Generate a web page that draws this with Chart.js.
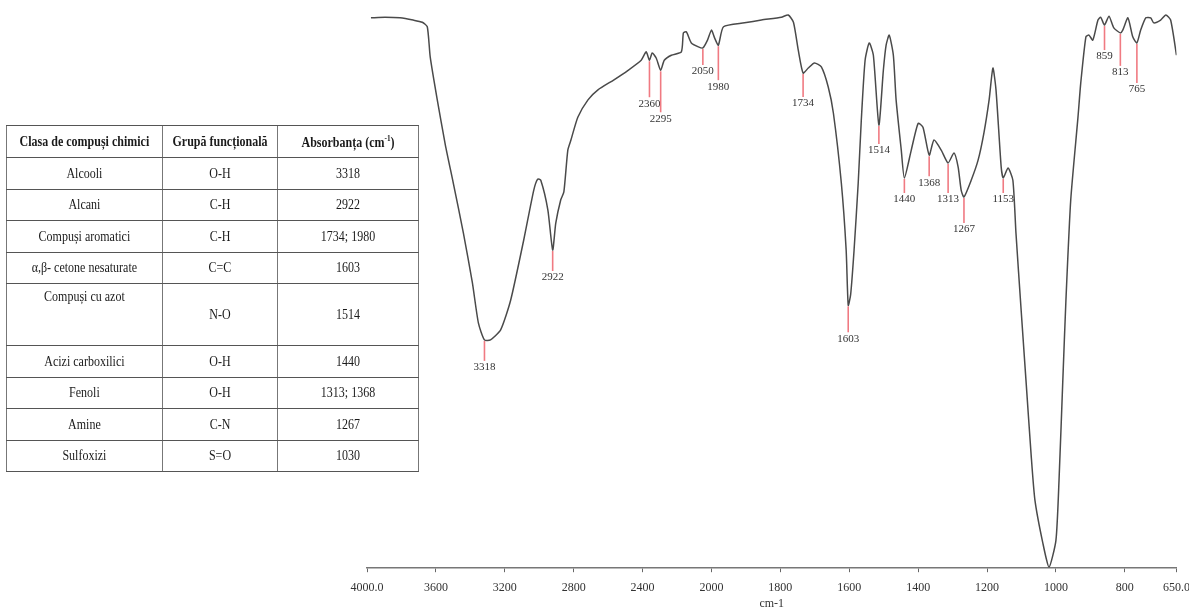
<!DOCTYPE html>
<html lang="ro">
<head>
<meta charset="utf-8">
<title>Spectru FTIR</title>
<script src="https://cdn.jsdelivr.net/npm/chart.js@4.4.1/dist/chart.umd.min.js"></script>
<style>
  html, body { margin: 0; padding: 0; background: #fff; }
  body { width: 1189px; height: 611px; position: relative; overflow: hidden;
         font-family: 'Liberation Serif', 'Times New Roman', serif; }
  #spectrum { position: absolute; left: 0; top: 0; }
  /* the table is laid out wide and squeezed horizontally to a narrow serif look */
  #groups { position: absolute; left: 6px; top: 125px; border-collapse: collapse;
            table-layout: fixed; width: 515px; transform: scaleX(0.8); transform-origin: 0 0;
            color: #1a1a1a; font-size: 15px; }
  #groups th, #groups td { border: 1px solid #555; text-align: center; vertical-align: middle;
            padding: 0; white-space: nowrap; }
  #groups th { font-weight: bold; height: 31px; }
  #groups td { height: 30.5px; }
  #groups tbody tr:nth-child(5) td { height: 61px; }
  #groups tbody tr:nth-child(5) td:first-child { vertical-align: top; padding-top: 4px; height: 57px; }
  #groups sup { font-size: 9px; }
</style>
</head>
<body>
<!-- slightly wider than the page so the last tick label can hang past the plot edge -->
<canvas id="spectrum" width="1198" height="611"></canvas>
<table id="groups">
  <colgroup><col style="width:195px"><col style="width:144px"><col style="width:176px"></colgroup>
  <thead>
    <tr><th>Clasa de compuși chimici</th><th>Grupă funcțională</th><th>Absorbanța (cm<sup>-1</sup>)</th></tr>
  </thead>
  <tbody></tbody>
</table>
<script>
// Functional groups assigned to the absorption bands
const compoundClasses = ['Alcooli', 'Alcani', 'Compuși aromatici', 'α,β- cetone nesaturate',
  'Compuși cu azot', 'Acizi carboxilici', 'Fenoli', 'Amine', 'Sulfoxizi'];
const functionalGroups = ['O-H', 'C-H', 'C-H', 'C=C', 'N-O', 'O-H', 'O-H', 'C-N', 'S=O'];
const absorptionBands = ['3318', '2922', '1734; 1980', '1603', '1514', '1440', '1313; 1368', '1267', '1030'];

// Spectrum: wavenumber (cm-1) and transmittance (%T)
const wavenumbers = [
  3977, 3895, 3808, 3732, 3679, 3650, 3633, 3592, 3545, 3499, 3440, 3388, 3353, 3318, 3283,
  3224, 3166, 3090, 3032, 3009, 2991, 2950, 2922, 2904, 2875, 2857, 2834, 2816, 2776, 2717,
  2659, 2566, 2484, 2408, 2379, 2360, 2344, 2321, 2295, 2274, 2233, 2175, 2163, 2146, 2117,
  2076, 2050, 2023, 2000, 1991, 1980, 1965, 1904, 1855, 1797, 1777, 1762, 1748, 1734, 1719,
  1701, 1681, 1661, 1646, 1623, 1609, 1603, 1596, 1586, 1574, 1565, 1554, 1542, 1530, 1514,
  1501, 1493, 1484, 1472, 1464, 1449, 1440, 1420, 1400, 1386, 1368, 1354, 1333, 1313, 1296,
  1284, 1275, 1267, 1246, 1226, 1209, 1194, 1183, 1174, 1159, 1153, 1139, 1125, 1116, 1101,
  1087, 1072, 1061, 1038, 1020, 1000, 991, 980, 971, 957, 936, 928, 913, 904, 893,
  878, 870, 859, 846, 832, 813, 806, 791, 777, 765, 754, 739, 725, 716, 696,
  681, 667, 650
];
const transmittance = [
  98.6, 98.7, 98.6, 98.2, 97.8, 97.0, 91.6, 83.9, 75.8, 69.0, 60.0, 51.1, 43.9, 40.9, 40.9,
  42.7, 48.0, 58.8, 67.7, 69.7, 69.5, 64.2, 57.0, 61.8, 66.0, 67.4, 74.9, 76.7, 80.8, 83.9,
  85.7, 87.5, 89.2, 91.0, 92.5, 91.0, 92.3, 91.4, 89.2, 91.0, 91.9, 92.5, 95.9, 96.1, 94.1,
  93.4, 93.2, 94.6, 96.4, 95.0, 93.7, 97.0, 97.7, 98.2, 98.7, 99.1, 97.8, 92.8, 88.7, 89.6,
  90.5, 89.8, 86.2, 81.5, 69.0, 57.0, 47.1, 49.0, 57.0, 69.0, 80.3, 91.0, 94.1, 91.9, 79.4,
  89.2, 93.7, 95.5, 91.9, 83.9, 74.9, 69.9, 74.9, 79.7, 79.0, 74.0, 76.7, 74.9, 72.6, 74.4,
  71.9, 67.7, 66.5, 69.5, 73.1, 78.0, 83.9, 89.6, 85.7, 71.9, 69.9, 71.7, 69.5, 60.0, 46.2,
  33.7, 20.3, 12.2, 4.5, 0.2, 5.0, 15.8, 33.7, 48.0, 66.0, 80.8, 86.9, 95.2, 95.5, 94.6,
  98.2, 98.7, 97.3, 98.9, 96.8, 95.9, 96.4, 98.6, 95.2, 94.1, 96.4, 98.6, 98.6, 97.7, 98.2,
  99.1, 98.2, 91.9
];

// Marked absorption peaks (cm-1)
const peakWavenumbers = [3318, 2922, 2360, 2295, 2050, 1980, 1734, 1603, 1514, 1440, 1368, 1313, 1267, 1153, 859, 813, 765];

// Axis ticks
const tickValues = [4000, 3600, 3200, 2800, 2400, 2000, 1800, 1600, 1400, 1200, 1000, 800, 650];
const tickLabels = ['4000.0', '3600', '3200', '2800', '2400', '2000', '1800', '1600', '1400', '1200', '1000', '800', '650.0'];

// Table rows
const tbody = document.querySelector('#groups tbody');
compoundClasses.forEach((name, i) => {
  const tr = document.createElement('tr');
  [name, functionalGroups[i], absorptionBands[i]].forEach(text => {
    const td = document.createElement('td');
    td.textContent = text;
    tr.appendChild(td);
  });
  tbody.appendChild(tr);
});

// Wavenumber axis with the usual 2x expansion below 2000 cm-1
const AXIS_HIGH = 4000, AXIS_BREAK = 2000, AXIS_LOW = 650, EXPANSION = 2;
const AXIS_SPAN = (AXIS_HIGH - AXIS_BREAK) + (AXIS_BREAK - AXIS_LOW) * EXPANSION;
function toUnits(v) {
  return v >= AXIS_BREAK ? AXIS_HIGH - v : (AXIS_HIGH - AXIS_BREAK) + (AXIS_BREAK - v) * EXPANSION;
}
function fromUnits(u) {
  const upper = AXIS_HIGH - AXIS_BREAK;
  return u <= upper ? AXIS_HIGH - u : AXIS_BREAK - (u - upper) / EXPANSION;
}

class WavenumberScale extends Chart.LinearScale {
  static id = 'wavenumber';
  buildTicks() {
    return tickValues.map(value => ({ value }));
  }
  getPixelForValue(value) {
    if (value === null || value === undefined || isNaN(value)) return NaN;
    return this.getPixelForDecimal(toUnits(value) / AXIS_SPAN);
  }
  getValueForPixel(pixel) {
    return fromUnits(this.getDecimalForPixel(pixel) * AXIS_SPAN);
  }
}
Chart.register(WavenumberScale);

// Red leaders with the wavenumber printed below each marked peak
const peakMarkers = {
  id: 'peakMarkers',
  afterDatasetsDraw(chart, args, opts) {
    const { ctx, scales: { x, y } } = chart;
    const points = chart.data.datasets[0].data;
    ctx.save();
    peakWavenumbers.forEach((wn, i) => {
      const pt = points.find(p => p.x === wn);
      const px = x.getPixelForValue(wn);
      const py = y.getPixelForValue(pt.y);
      const len = opts.leaderLengths[i];
      ctx.strokeStyle = opts.color;
      ctx.lineWidth = 1.6;
      ctx.beginPath();
      ctx.moveTo(px, py + 1);
      ctx.lineTo(px, py + len - 1);
      ctx.stroke();
      ctx.fillStyle = opts.textColor;
      ctx.font = opts.font;
      ctx.textAlign = 'center';
      ctx.textBaseline = 'top';
      ctx.fillText(String(wn), px, py + len);
    });
    ctx.restore();
  }
};

Chart.defaults.font.family = "'Liberation Serif', 'Times New Roman', serif";

new Chart(document.getElementById('spectrum'), {
  type: 'line',
  data: {
    datasets: [{
      data: wavenumbers.map((w, i) => ({ x: w, y: transmittance[i] })),
      borderColor: '#4a4a4a',
      borderWidth: 1.5,
      pointRadius: 0,
      tension: 0.2,
      fill: false
    }]
  },
  options: {
    responsive: false,
    animation: false,
    devicePixelRatio: 1,
    layout: { padding: { left: 367, right: 4, top: 10, bottom: 0 } },
    plugins: {
      legend: { display: false },
      tooltip: { enabled: false },
      peakMarkers: {
        color: '#f07a82',
        textColor: '#333',
        font: "11px 'Liberation Serif', serif",
        leaderLengths: [22, 22, 38, 43, 18, 36, 25, 28, 20, 16, 22, 31, 27, 16, 26, 34, 41]
      }
    },
    scales: {
      x: {
        type: 'wavenumber',
        min: 650,
        max: 4000,
        grid: { drawOnChartArea: false, drawTicks: true, tickLength: 4, color: '#666', lineWidth: 1 },
        border: { display: true, color: '#777', width: 1.5 },
        ticks: {
          autoSkip: false, maxRotation: 0, padding: 8, color: '#333',
          font: { size: 12 },
          callback: (value, index) => tickLabels[index]
        },
        title: { display: true, text: 'cm-1', color: '#333', font: { size: 12 }, padding: { top: -6, bottom: 0 } }
      },
      y: { display: false, min: 0, max: 100 }
    }
  },
  plugins: [peakMarkers]
});
</script>
</body>
</html>
